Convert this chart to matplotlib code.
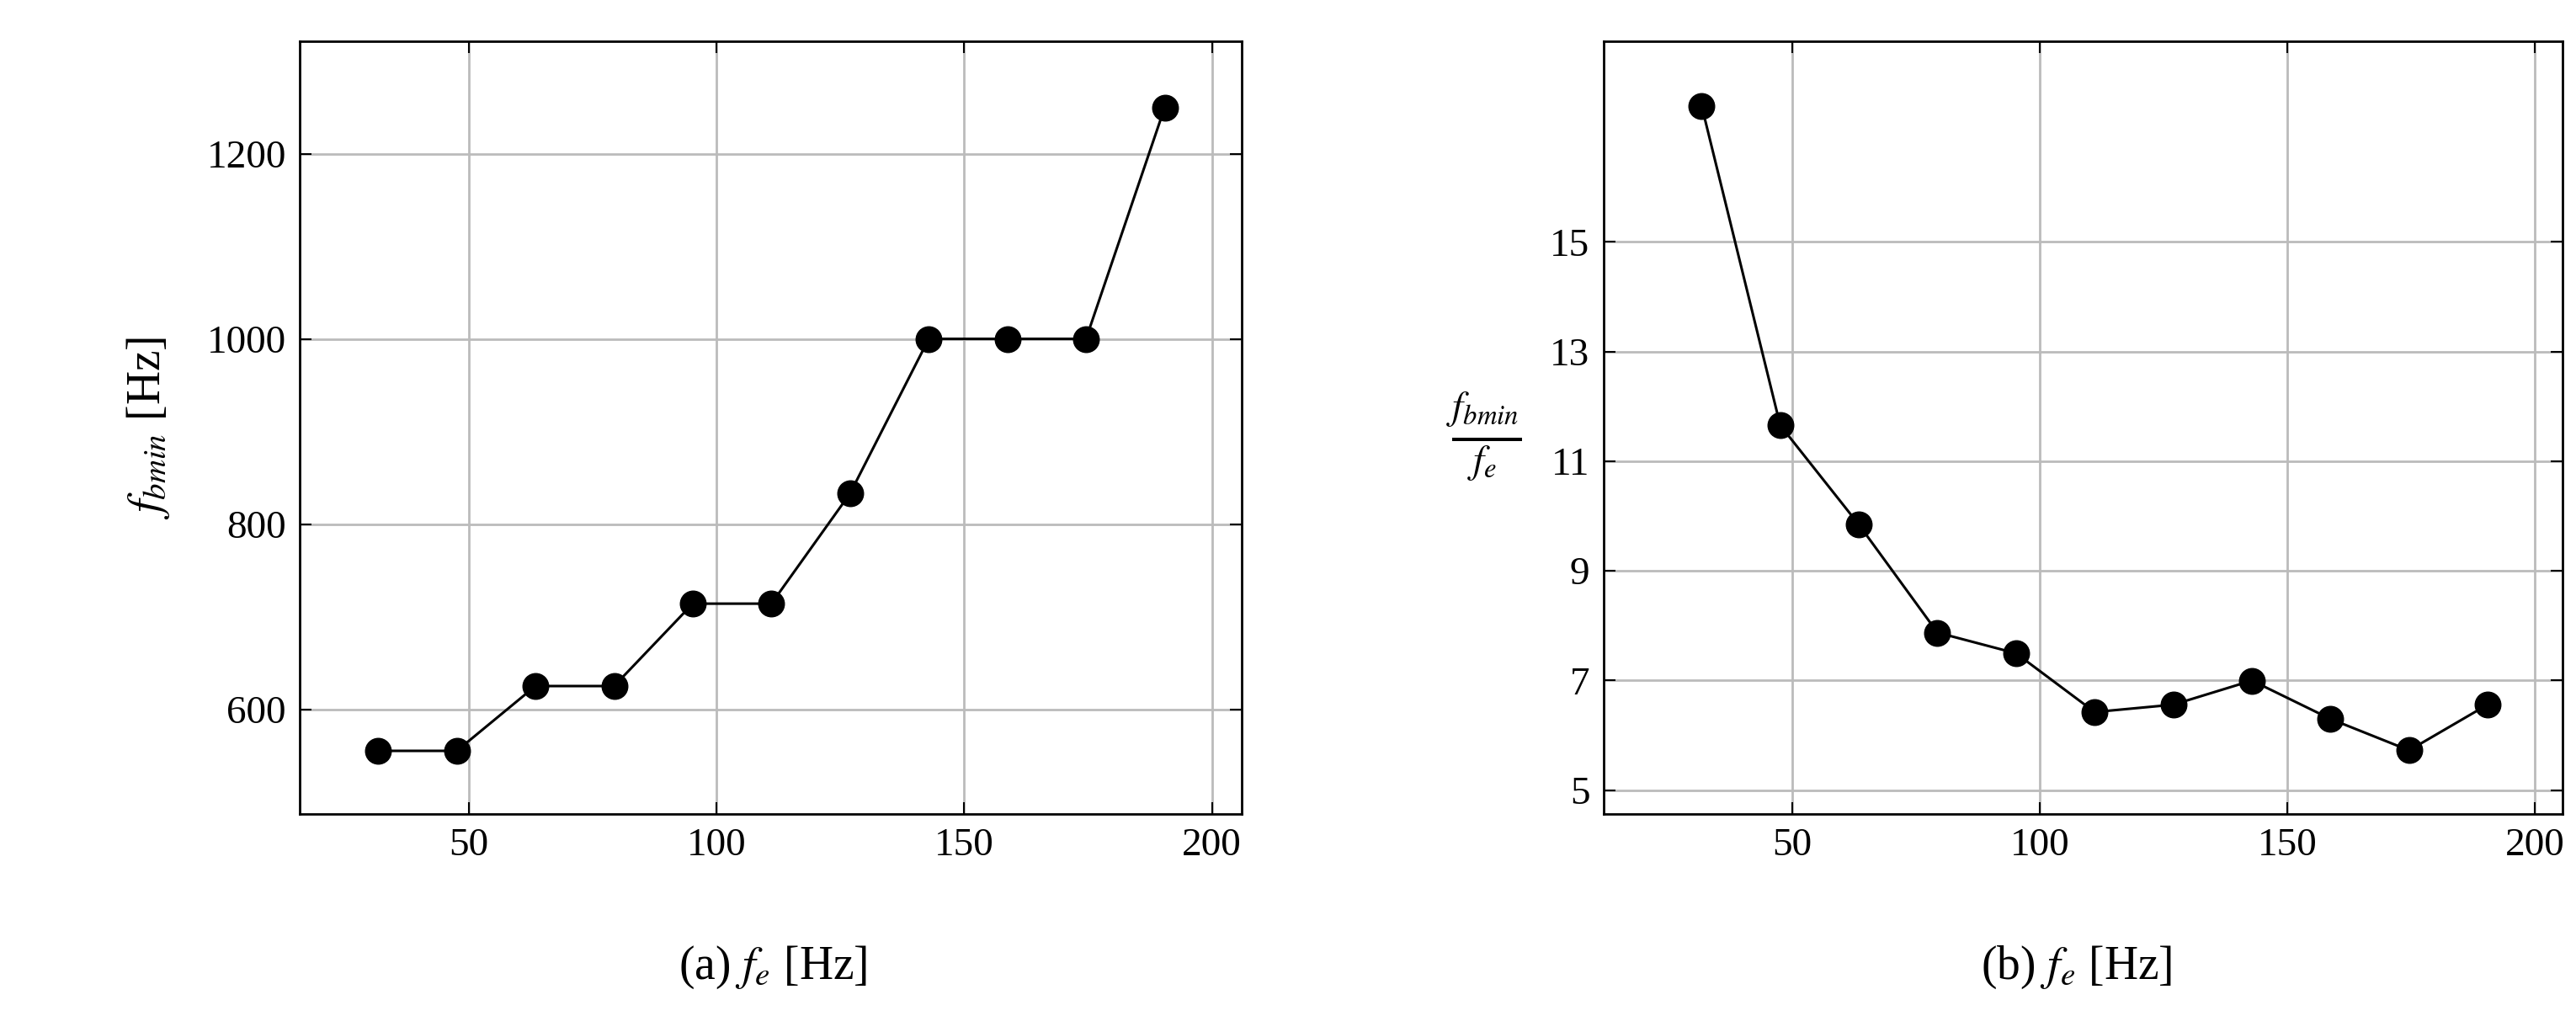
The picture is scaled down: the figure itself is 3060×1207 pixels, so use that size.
import matplotlib.pyplot as plt

plt.rcParams['font.family'] = ['Liberation Serif', 'DejaVu Serif']
plt.rcParams['mathtext.fontset'] = 'stix'

fe = [31.75, 47.62, 63.49, 79.37, 95.24, 111.11, 126.98, 142.86, 158.73, 174.60, 190.48]
fbmin = [555, 555, 625, 625, 714, 714, 833, 1000, 1000, 1000, 1250]
ratio = [b / f for b, f in zip(fbmin, fe)]

fig = plt.figure(figsize=(30.6, 12.07), dpi=100)
ax1 = fig.add_axes([0.1165, 0.199, 0.3655, 0.76])
ax2 = fig.add_axes([0.6226, 0.199, 0.3722, 0.76])

fs = 34
for ax, y in ((ax1, fbmin), (ax2, ratio)):
    ax.plot(fe, y, color='black', lw=2.2, marker='o', markersize=22)
    ax.grid(True, color='#bbbbbb', lw=2)
    ax.set_axisbelow(True)
    ax.set_xticks([50, 100, 150, 200])
    ax.tick_params(direction='in', top=True, right=True, length=10, width=1.5,
                   labelsize=fs, pad=12)
    for s in ax.spines.values():
        s.set_linewidth(2)

ax1.set_xlim(16, 206)
ax1.set_ylim(487, 1321)
ax1.set_yticks([600, 800, 1000, 1200])
ax1.set_ylabel(r'$f_{bmin}$ [Hz]', fontsize=40, labelpad=30)

ax2.set_xlim(12, 205.6)
ax2.set_ylim(4.57, 18.65)
ax2.set_yticks([5, 7, 9, 11, 13, 15])
fig.text(0.576, 0.57, r'$\frac{f_{bmin}}{f_e}$', fontsize=48, ha='center', va='center')

fig.text(0.30, 0.048, r'(a) $f_e$ [Hz]', fontsize=40, ha='center', va='center')
fig.text(0.806, 0.048, r'(b) $f_e$ [Hz]', fontsize=40, ha='center', va='center')

fig.savefig('out.png', dpi=100)
